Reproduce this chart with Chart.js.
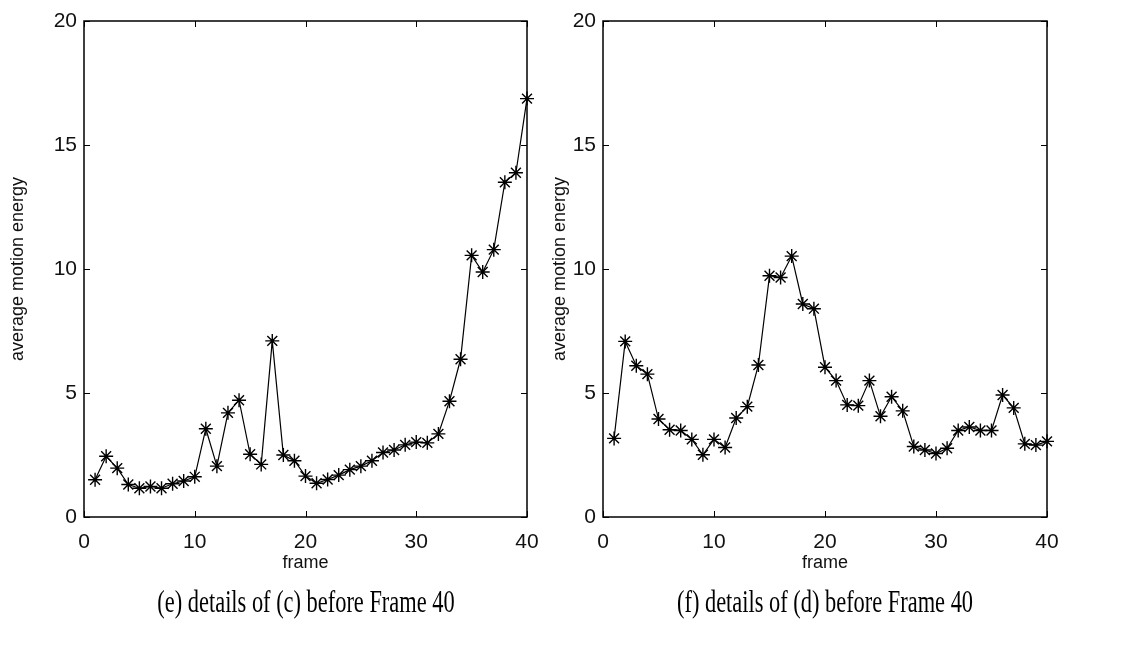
<!DOCTYPE html>
<html>
<head>
<meta charset="utf-8">
<script src="https://cdn.jsdelivr.net/npm/chart.js@4.4.1/dist/chart.umd.min.js"></script>
<style>
  body { margin:0; background:#fff; width:1130px; height:646px; position:relative; overflow:hidden; }
  .panel { position:absolute; top:0; height:600px; }
  #panelE { left:0; width:560px; }
  #panelF { left:519px; width:611px; }
  .caption { position:absolute; top:580px; width:600px; text-align:center; white-space:nowrap;
             font-family:"Liberation Serif","Times New Roman",serif; font-size:32px; line-height:42px;
             color:#000; transform:scaleX(0.7); }
</style>
</head>
<body>
<div class="panel" id="panelE"><canvas id="chartE"></canvas></div>
<div class="panel" id="panelF"><canvas id="chartF"></canvas></div>
<div class="caption" style="left:6px">(e) details of (c) before Frame 40</div>
<div class="caption" style="left:525px">(f) details of (d) before Frame 40</div>

<script>
// frame numbers
const frames = [1, 2, 3, 4, 5, 6, 7, 8, 9, 10, 11, 12, 13, 14, 15, 16, 17, 18, 19, 20,
                21, 22, 23, 24, 25, 26, 27, 28, 29, 30, 31, 32, 33, 34, 35, 36, 37, 38, 39, 40];

// average motion energy per frame, sequence (c)
const energyC = [1.5, 2.45, 1.97, 1.31, 1.16, 1.23, 1.16, 1.34, 1.45, 1.62,
                 3.56, 2.05, 4.2, 4.71, 2.53, 2.12, 7.1, 2.5, 2.27, 1.65,
                 1.36, 1.51, 1.69, 1.91, 2.05, 2.27, 2.6, 2.7, 2.91, 3.02,
                 2.99, 3.35, 4.67, 6.36, 10.55, 9.88, 10.78, 13.5, 13.88, 16.87];

// average motion energy per frame, sequence (d)
const energyD = [3.17, 7.08, 6.1, 5.76, 3.95, 3.52, 3.49, 3.13, 2.51, 3.13,
                 2.8, 3.99, 4.45, 6.13, 9.73, 9.66, 10.52, 8.59, 8.4, 6.04,
                 5.5, 4.52, 4.49, 5.5, 4.06, 4.85, 4.28, 2.84, 2.7, 2.56,
                 2.77, 3.49, 3.63, 3.49, 3.49, 4.92, 4.4, 2.95, 2.9, 3.05];

const xTicks = [0, 10, 20, 30, 40];
const yTicks = [0, 5, 10, 15, 20];

const tickFont = { family: '"Liberation Sans Narrow", "Liberation Sans", Arial, sans-serif', size: 21 };
const titleFont = { family: '"Liberation Sans", Arial, sans-serif', size: 18 };

// box round the plot area with inward tick marks on all four sides
const boxTicks = {
  id: 'boxTicks',
  beforeDatasetsDraw(chart) {
    const { ctx, chartArea: a, scales: { x, y } } = chart;
    ctx.save();
    ctx.strokeStyle = '#000';
    ctx.lineWidth = 1.5;
    ctx.strokeRect(a.left, a.top, a.right - a.left, a.bottom - a.top);
    ctx.lineWidth = 1;
    ctx.beginPath();
    xTicks.forEach(v => {
      const px = Math.round(x.getPixelForValue(v)) + 0.5;
      ctx.moveTo(px, a.bottom); ctx.lineTo(px, a.bottom - 6);
      ctx.moveTo(px, a.top); ctx.lineTo(px, a.top + 6);
    });
    yTicks.forEach(v => {
      const py = Math.round(y.getPixelForValue(v)) + 0.5;
      ctx.moveTo(a.left, py); ctx.lineTo(a.left + 6, py);
      ctx.moveTo(a.right, py); ctx.lineTo(a.right - 6, py);
    });
    ctx.stroke();
    ctx.restore();
  }
};

function makeChart(id, values, rightPad, titlePad) {
  const points = frames.map((f, i) => ({ x: f, y: values[i] }));
  return new Chart(document.getElementById(id), {
    type: 'line',
    data: {
      datasets: [{
        data: points,
        borderColor: '#000',
        borderWidth: 1.2,
        pointStyle: 'star',
        pointRadius: 7,
        pointBorderColor: '#000',
        pointBorderWidth: 1.4,
        pointBackgroundColor: '#000',
        tension: 0,
        clip: false
      }]
    },
    options: {
      responsive: true,
      maintainAspectRatio: false,
      animation: false,
      events: [],
      layout: { padding: { top: 21, right: rightPad, left: 0, bottom: 0 } },
      plugins: { legend: { display: false }, tooltip: { enabled: false } },
      scales: {
        x: {
          type: 'linear', min: 0, max: 40,
          afterBuildTicks: s => { s.ticks = xTicks.map(v => ({ value: v })); },
          afterFit: s => { s.height = 83; },
          grid: { display: false, drawTicks: false, tickLength: 0 },
          border: { display: false },
          ticks: { font: tickFont, color: '#111', padding: 13, maxRotation: 0 },
          title: { display: true, text: 'frame', font: titleFont, color: '#111', padding: { top: 0, bottom: 26 } }
        },
        y: {
          min: 0, max: 20,
          afterBuildTicks: s => { s.ticks = yTicks.map(v => ({ value: v })); },
          afterFit: s => { s.width = 84; },
          grid: { display: false, drawTicks: false, tickLength: 0 },
          border: { display: false },
          ticks: { font: tickFont, color: '#111', padding: 7 },
          title: { display: true, text: 'average motion energy', font: titleFont, color: '#111', padding: { top: titlePad, bottom: 0 } }
        }
      }
    },
    plugins: [boxTicks]
  });
}

makeChart('chartE', energyC, 33, 7);
makeChart('chartF', energyD, 83, 30);
</script>
</body>
</html>
